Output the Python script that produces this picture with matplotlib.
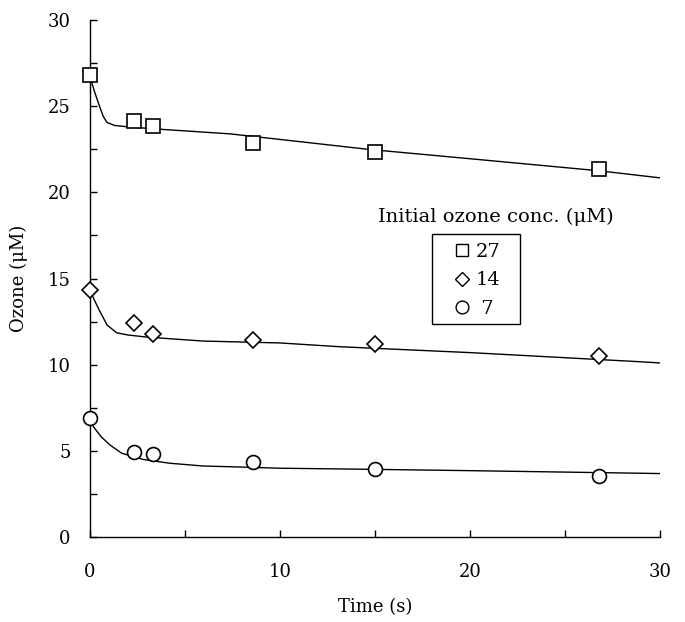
import numpy as np
import matplotlib
matplotlib.use("Agg")
import matplotlib.pyplot as plt
from matplotlib.lines import Line2D
from matplotlib.patches import Rectangle

plt.rcParams['font.family'] = ['DejaVu Serif']

# measured points (time s, ozone uM)
t_obs = [0, 2.3, 3.3, 8.6, 15.0, 26.8]
oz27 = [26.8, 24.15, 23.85, 22.85, 22.35, 21.35]
oz14 = [14.35, 12.4, 11.8, 11.45, 11.2, 10.52]
oz7 = [6.88, 4.95, 4.8, 4.37, 3.93, 3.56]

# model curves
t27 = [0, 0.25, 0.5, 0.7, 0.9, 1.3, 2.0, 3.7, 7.4, 11.05, 14.6, 20, 26.8, 30]
fit27 = [26.7, 25.8, 25.0, 24.4, 24.05, 23.88, 23.8, 23.66, 23.39, 22.94, 22.5, 21.95, 21.25, 20.84]
t14 = [0, 0.25, 0.53, 0.9, 1.4, 2.0, 3.0, 5.95, 10, 13.16, 20, 28.95, 30]
fit14 = [14.3, 13.7, 13.07, 12.3, 11.85, 11.72, 11.6, 11.37, 11.26, 11.04, 10.7, 10.17, 10.1]
t7 = [0, 0.18, 0.6, 1.05, 1.67, 2.8, 4.2, 5.95, 8.25, 10, 13.16, 20, 28.95, 30]
fit7 = [6.85, 6.40, 5.8, 5.34, 4.86, 4.5, 4.28, 4.12, 4.05, 3.99, 3.95, 3.85, 3.70, 3.68]

labels = ["27", "14", " 7"]
markers = ["s", "D", "o"]

fig = plt.figure(figsize=(6.85, 6.22), dpi=100)
ax = fig.add_axes([90/685, 85/622, 570/685, 517/622])

for t, f in [(t27, fit27), (t14, fit14), (t7, fit7)]:
    ax.plot(t, f, color="black", lw=1.0, zorder=2)

sizes = [10, 8, 10]
for y, m, s in zip([oz27, oz14, oz7], markers, sizes):
    ax.plot(t_obs, y, ls="none", marker=m, ms=s, mfc="white", mec="black",
            mew=1.2, clip_on=False, zorder=3)

ax.set_xlim(0, 30)
ax.set_ylim(0, 30)
ax.set_xticks([0, 10, 20, 30])
ax.set_xticks([5, 15, 25], minor=True)
ax.set_yticks(np.arange(0, 31, 5))
ax.set_yticks(np.arange(2.5, 30, 5), minor=True)
ax.tick_params(which="both", direction="in", length=5, width=1.0, labelsize=13)
ax.tick_params(axis="x", which="both", pad=19)
ax.tick_params(axis="y", which="both", pad=14)
for s in ["top", "right"]:
    ax.spines[s].set_visible(False)
for s in ["left", "bottom"]:
    ax.spines[s].set_linewidth(1.0)

ax.set_xlabel("Time (s)", fontsize=13, labelpad=12)
ax.set_ylabel("Ozone (μM)", fontsize=13, labelpad=14)

ax.text(496/685, 1 - 217/622, "Initial ozone conc. (μM)", fontsize=14,
        ha="center", va="center", transform=fig.transFigure)

# legend box drawn separately (wider side padding than top/bottom)
fig.patches.append(Rectangle((432/685, 1 - 324/622), 88/685, 90/622, fill=False,
                             lw=1.0, edgecolor="black", transform=fig.transFigure))

handles = [Line2D([], [], ls="none", marker=m, ms=s * 0.92, mfc="white", mec="black", mew=1.0)
           for m, s in zip(markers, sizes)]
leg = ax.legend(handles, labels, loc="upper left",
                bbox_to_anchor=(452/685, 1 - 243/622), bbox_transform=fig.transFigure,
                fontsize=14, frameon=False,
                handlelength=1.0, handletextpad=0.2, labelspacing=0.53,
                borderpad=0, borderaxespad=0)

fig.savefig("out.png", dpi=100)
